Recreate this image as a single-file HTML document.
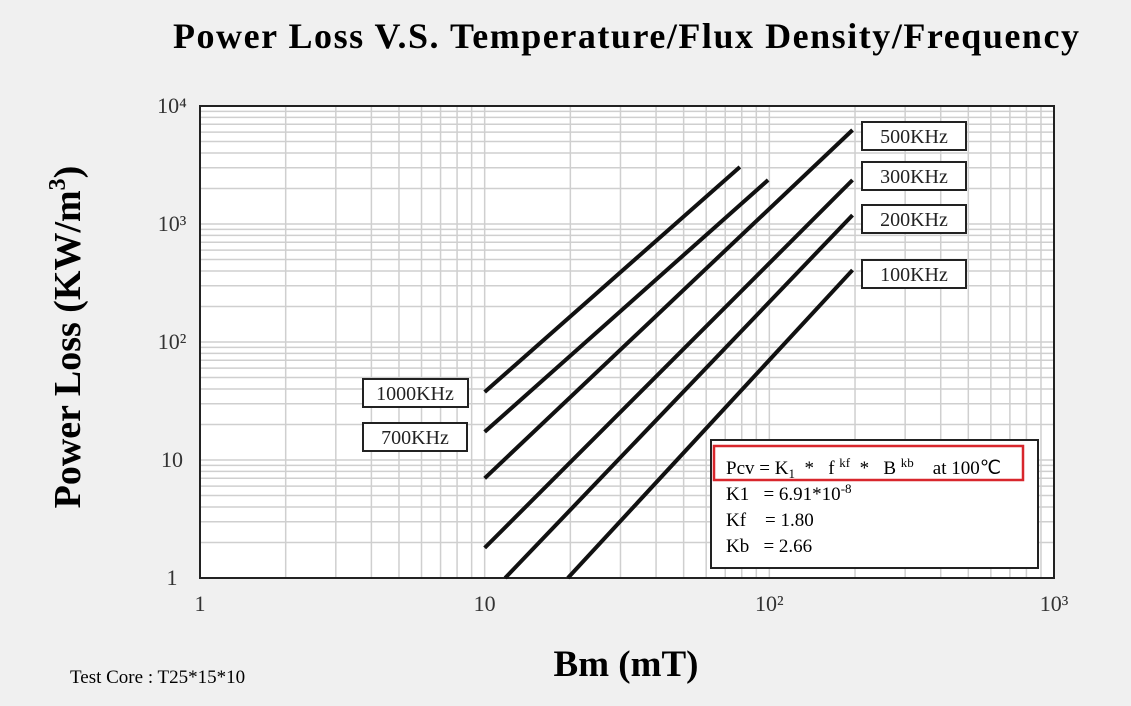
<!DOCTYPE html>
<html><head><meta charset="utf-8"><style>
body{margin:0;background:#f0f0f0;}
svg{display:block;font-family:"Liberation Serif",serif;}
text{white-space:pre;}
</style></head><body>
<svg id="chart" width="1131" height="706" viewBox="0 0 1131 706">
<rect x="0" y="0" width="1131" height="706" fill="#f0f0f0"/>
<text x="626" y="48" text-anchor="middle" font-size="36" font-weight="bold" textLength="906" lengthAdjust="spacing">Power Loss V.S. Temperature/Flux Density/Frequency</text>
<rect x="200" y="106" width="854" height="472" fill="#fff"/>
<g id="grid"></g>
<rect x="200" y="106" width="854" height="472" fill="none" stroke="#222" stroke-width="2"/>
<g id="ticks"></g>
<g id="series"></g>
<g id="labels"></g>
<text transform="translate(80,337) rotate(-90)" text-anchor="middle" font-size="38" font-weight="bold">Power Loss (KW/m<tspan font-size="24" dy="-15">3</tspan><tspan dy="15">)</tspan></text>
<text x="626" y="676" text-anchor="middle" font-size="37" font-weight="bold">Bm (mT)</text>
<text x="70" y="683" font-size="19">Test Core : T25*15*10</text>
<g>
<rect x="711" y="440" width="327" height="128" fill="#fff" stroke="#222" stroke-width="2"/>
<rect x="714" y="446" width="309" height="34" fill="none" stroke="#d8262c" stroke-width="2.5"/>
<text x="726" y="474" font-size="19">Pcv = K<tspan font-size="13" dy="4">1</tspan><tspan dy="-4">  *   f </tspan><tspan font-size="13" dy="-7">kf</tspan><tspan dy="7">  *   B </tspan><tspan font-size="13" dy="-7">kb</tspan><tspan dy="7">    at 100℃</tspan></text>
<text x="726" y="500" font-size="19">K1   = 6.91*10<tspan font-size="13" dy="-7">-8</tspan></text>
<text x="726" y="526" font-size="19">Kf    = 1.80</text>
<text x="726" y="552" font-size="19">Kb   = 2.66</text>
</g>
</svg>
<script>
const seriesNames = ["1000KHz","700KHz","500KHz","300KHz","200KHz","100KHz"];
const bStart = [10, 10, 10, 10, 11.8, 19.6];
const bEnd = [78.8, 99, 196, 196, 196, 196];
const pStart = [37.7, 17.3, 7.0, 1.8, 1.0, 1.0];
const pEnd = [3040, 2360, 6260, 2360, 1190, 407];
const xTickLabels = ["1","10","10²","10³"];
const yTickLabels = ["1","10","10²","10³","10⁴"];
const labelBoxes = [[363,379],[363,423],[862,122],[862,162],[862,205],[862,260]];
const L=200,R=1054,T=106,B=578;
const xs=v=>L+Math.log10(v)/3*(R-L);
const ys=v=>B-Math.log10(v)/4*(B-T);
const NS="http://www.w3.org/2000/svg";
function mk(tag,attrs,parent){const e=document.createElementNS(NS,tag);for(const k in attrs)e.setAttribute(k,attrs[k]);parent.appendChild(e);return e;}
const grid=document.getElementById('grid');
for(let d=0;d<3;d++)for(let m=1;m<10;m++){const v=Math.pow(10,d)*m;if(d==0&&m==1)continue;
 const l=mk('line',{x1:xs(v),x2:xs(v),y1:T,y2:B,stroke:'#cfcfcf','stroke-width':1.5},grid);
 
 }
for(let d=0;d<4;d++)for(let m=1;m<10;m++){const v=Math.pow(10,d)*m;if(d==0&&m==1)continue;
 const l=mk('line',{x1:L,x2:R,y1:ys(v),y2:ys(v),stroke:'#cfcfcf','stroke-width':1.5},grid);
 
 }
const ticks=document.getElementById('ticks');
xTickLabels.forEach((t,i)=>{const e=mk('text',{x:xs(Math.pow(10,i)),y:611,'text-anchor':'middle','font-size':22,fill:'#333'},ticks);e.textContent=t;
 
 });
yTickLabels.forEach((t,i)=>{const e=mk('text',{x:172,y:ys(Math.pow(10,i))+7,'text-anchor':'middle','font-size':22,fill:'#333'},ticks);e.textContent=t;
 
 });
const series=document.getElementById('series'),labels=document.getElementById('labels');
seriesNames.forEach((n,i)=>{
 const l=mk('line',{x1:xs(bStart[i]),y1:ys(pStart[i]),x2:xs(bEnd[i]),y2:ys(pEnd[i]),stroke:'#111','stroke-width':4},series);
 
 
 const [bx,by]=labelBoxes[i];
 const g=mk('g',{},labels);
 
 
 mk('rect',{x:bx,y:by,width:n.length>6?105:104,height:28,fill:'#fff',stroke:'#222','stroke-width':2},g);
 const t=mk('text',{x:bx+52,y:by+21,'text-anchor':'middle','font-size':20,fill:'#222'},g);t.textContent=n;
});
</script>
</body></html>
